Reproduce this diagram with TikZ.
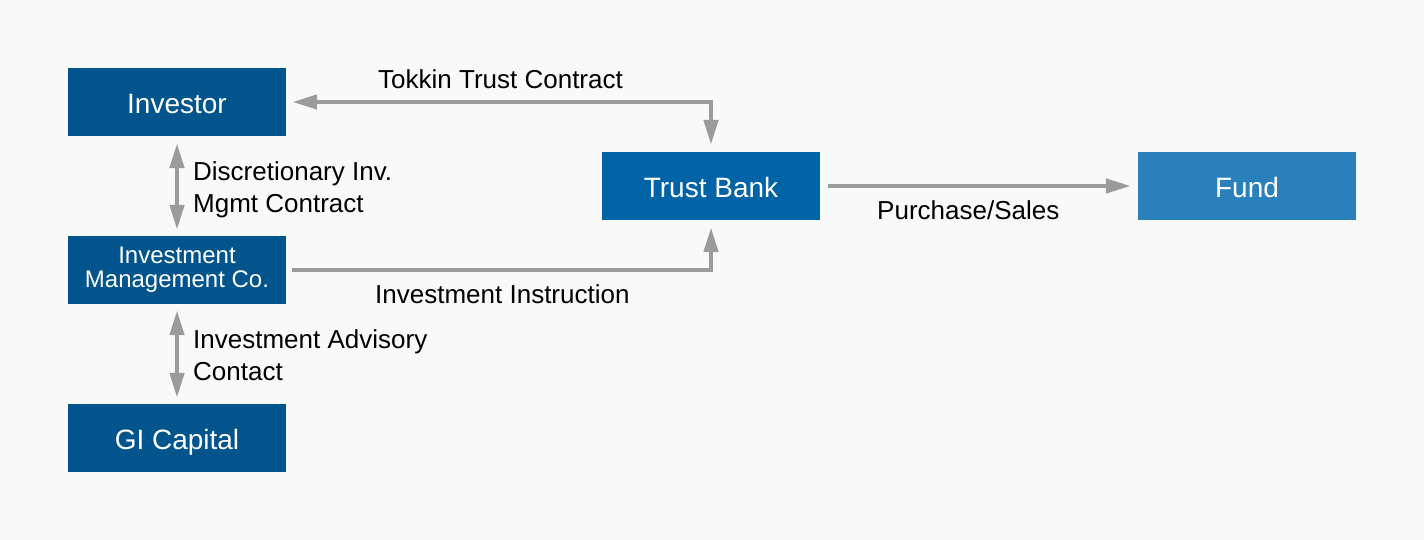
\documentclass[tikz,border=0pt]{standalone}
\usepackage{fontspec}
\setmainfont{Liberation Sans}
\usetikzlibrary{arrows.meta}
\definecolor{bgc}{HTML}{F9F9F9}
\definecolor{darkbox}{HTML}{01548C}
\definecolor{bankbox}{HTML}{0063A6}
\definecolor{fundbox}{HTML}{2A80BB}
\definecolor{arrowgray}{HTML}{9B9B9B}
\tikzset{
  box/.style={rectangle, minimum width=218pt, minimum height=68pt, inner sep=0pt, text=white, font=\fontsize{28}{30}\selectfont, align=center},
  onebox/.style={box, text height=23pt, text depth=0pt},
  lbl/.style={inner sep=0pt, anchor=base west, align=left, text=black, font=\fontsize{26}{32}\selectfont},
  conn/.style={draw=arrowgray, line width=4.5pt, -{Triangle[length=25pt,width=14pt]}},
  biconn/.style={draw=arrowgray, line width=4.5pt, {Triangle[length=25pt,width=14pt]}-{Triangle[length=25pt,width=14pt]}}
}
\begin{document}
\begin{tikzpicture}[x=1pt,y=-1pt]
\fill[bgc] (0,0) rectangle (1424,540);
\useasboundingbox (0,0) rectangle (1424,540);

\node[onebox, fill=darkbox] (inv) at (177,102) {Investor};
\node[box, fill=darkbox, font=\fontsize{24}{24}\selectfont] (imc) at (177,270) {Investment\\Management Co.};
\node[onebox, fill=darkbox] (gic) at (177,438) {GI Capital};
\node[onebox, fill=bankbox] (tb) at (711,186) {Trust Bank};
\node[onebox, fill=fundbox] (fund) at (1247,186) {Fund};

\draw[biconn] ([xshift=6pt]inv.east) -| ([yshift=7pt]tb.north);
\draw[conn] ([xshift=6pt]imc.east) -| ([yshift=-7pt]tb.south);
\draw[biconn] ([yshift=-7pt]inv.south) -- ([yshift=6pt]imc.north);
\draw[biconn] ([yshift=-6pt]imc.south) -- ([yshift=6pt]gic.north);
\draw[conn] ([xshift=8pt]tb.east) -- ([xshift=-7pt]fund.west);

\node[lbl] (l1) at (378,89) {Tokkin Trust Contract};
\node[lbl] (l2) at (193,212) {Discretionary Inv.\\Mgmt Contract};
\node[lbl] (l3) at (375,303) {Investment Instruction};
\node[lbl] (l4) at (193,380) {Investment Advisory\\Contact};
\node[lbl] (l5) at (877,219) {Purchase/Sales};
\end{tikzpicture}
\end{document}
